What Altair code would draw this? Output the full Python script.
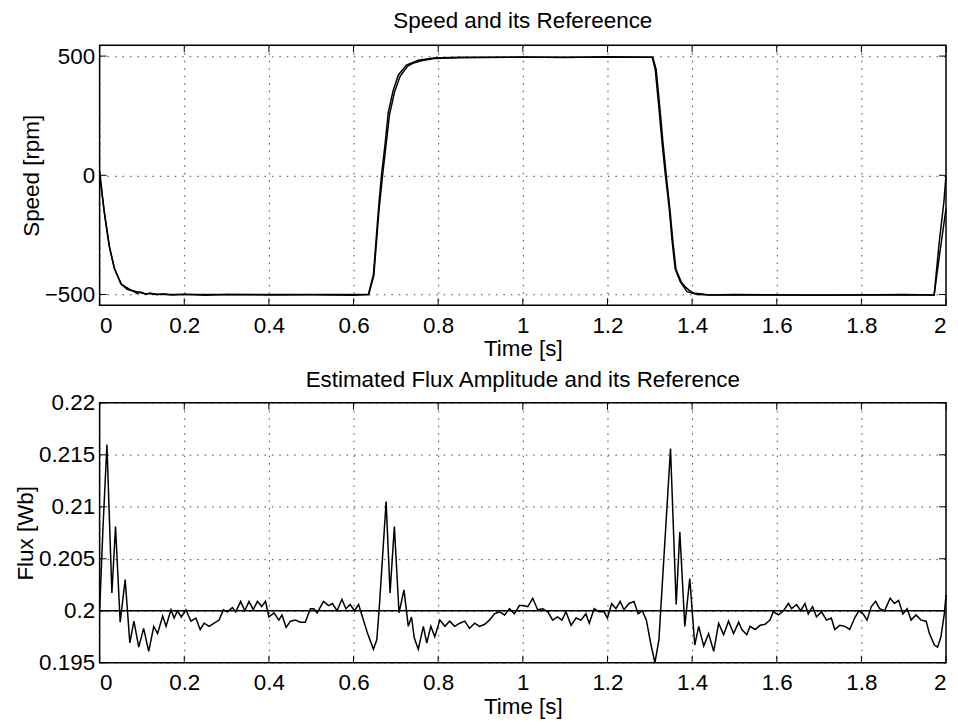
import altair as alt
import pandas as pd

# ---------------- data ----------------
speed_ref_t = [0.0, 0.012, 0.024, 0.035, 0.052, 0.075, 0.106, 0.15, 0.635, 0.647, 0.659, 0.666,
               0.675, 0.682, 0.694, 0.706, 0.725, 0.753, 0.79, 0.85, 1.306, 1.313, 1.322, 1.329,
               1.337, 1.346, 1.353, 1.36, 1.372, 1.388, 1.412, 1.45, 1.972, 1.984, 1.995, 2.0]
speed_ref_v = [0, -167, -308, -392, -458, -483, -496, -500, -500, -417, -141, 0,
               138, 263, 358, 421, 462, 483, 492, 495, 495, 442, 275, 138,
               0, -141, -279, -392, -446, -488, -500, -502, -502, -279, -112, 0]

speed_t = [0.0, 0.01, 0.022, 0.035, 0.05, 0.065, 0.078, 0.088, 0.097, 0.108, 0.12, 0.135, 0.15,
           0.17, 0.2, 0.25, 0.3, 0.4, 0.5, 0.6, 0.636, 0.648, 0.66, 0.668, 0.677, 0.685, 0.697,
           0.71, 0.728, 0.74, 0.76, 0.79, 0.85, 1.0, 1.1, 1.2, 1.307, 1.315, 1.324, 1.331, 1.339,
           1.348, 1.355, 1.362, 1.368, 1.375, 1.385, 1.395, 1.405, 1.42, 1.44, 1.5, 1.7, 1.9,
           1.972, 1.985, 2.0]
speed_v = [20, -140, -290, -390, -455, -478, -484, -495, -490, -499, -494, -501, -497,
           -502, -499, -503, -500, -502, -501, -503, -500, -420, -150, -10, 130, 255, 350,
           415, 458, 470, 480, 490, 493, 496, 494, 497, 495, 445, 280, 140, 0,
           -150, -285, -395, -420, -450, -470, -485, -495, -497, -502, -500, -503, -500,
           -502, -330, -140]

flux_t = [0.0, 0.008, 0.0173, 0.029, 0.0376, 0.0486, 0.0604, 0.0714, 0.081, 0.0925, 0.104, 0.116,
          0.128, 0.137, 0.149, 0.157, 0.1686, 0.176, 0.184, 0.193, 0.204, 0.2157, 0.2275, 0.2376,
          0.247, 0.259, 0.2706, 0.2824, 0.2925, 0.302, 0.3137, 0.3216, 0.3333, 0.343, 0.353, 0.363,
          0.373, 0.383, 0.392, 0.4, 0.412, 0.4235, 0.431, 0.4408, 0.451, 0.4627, 0.4745, 0.486,
          0.498, 0.506, 0.514, 0.529, 0.541, 0.55, 0.561, 0.5725, 0.582, 0.592, 0.602, 0.612,
          0.6196, 0.6333, 0.647, 0.655, 0.661, 0.677, 0.6863, 0.6965, 0.7075, 0.7192, 0.7294,
          0.737, 0.7435, 0.753, 0.765, 0.773, 0.7827, 0.792, 0.804, 0.816, 0.827, 0.839, 0.851,
          0.863, 0.874, 0.886, 0.898, 0.91, 0.921, 0.933, 0.945, 0.957, 0.9686, 0.98, 0.992,
          1.0, 1.0118, 1.0235, 1.035, 1.047, 1.059, 1.0706, 1.082, 1.0925, 1.102, 1.114, 1.126,
          1.1373, 1.149, 1.157, 1.1686, 1.18, 1.192, 1.2, 1.21, 1.22, 1.23, 1.239, 1.251, 1.2627,
          1.2725, 1.2824, 1.292, 1.302, 1.3122, 1.3216, 1.349, 1.3624, 1.371, 1.3828, 1.3945,
          1.4063, 1.4157, 1.4275, 1.439, 1.451, 1.4627, 1.4745, 1.486, 1.498, 1.51, 1.5176,
          1.529, 1.537, 1.549, 1.5608, 1.5725, 1.584, 1.592, 1.604, 1.616, 1.6275, 1.635, 1.647,
          1.6565, 1.6667, 1.6745, 1.6847, 1.694, 1.7059, 1.7176, 1.729, 1.737, 1.749, 1.7608,
          1.7725, 1.784, 1.794, 1.804, 1.8133, 1.8235, 1.8337, 1.843, 1.855, 1.868, 1.878, 1.888,
          1.898, 1.908, 1.9176, 1.929, 1.941, 1.953, 1.9608, 1.9725, 1.98, 1.988, 1.996, 2.0]
flux_v = [0.2000, 0.2080, 0.2160, 0.2017, 0.2081, 0.1989, 0.2030, 0.1969, 0.1990, 0.1965, 0.1983, 0.1961,
          0.1985, 0.1978, 0.1995, 0.1985, 0.2001, 0.1993, 0.2000, 0.1994, 0.2001, 0.1990, 0.1993, 0.1982,
          0.1988, 0.1985, 0.1988, 0.1991, 0.2001, 0.1999, 0.2003, 0.1999, 0.2009, 0.2000, 0.2009, 0.2001,
          0.2009, 0.2004, 0.2009, 0.1994, 0.1998, 0.1991, 0.1996, 0.1984, 0.1990, 0.1991, 0.1989, 0.1989,
          0.2002, 0.2002, 0.1998, 0.2009, 0.2005, 0.2007, 0.2000, 0.2011, 0.2002, 0.2006, 0.2000, 0.2006,
          0.1996, 0.1978, 0.1963, 0.1972, 0.2004, 0.2105, 0.2017, 0.2081, 0.1998, 0.2020, 0.1985,
          0.1994, 0.1974, 0.1963, 0.1985, 0.1969, 0.1985, 0.1975, 0.1991, 0.1985, 0.1990, 0.1985, 0.1988,
          0.1990, 0.1983, 0.1988, 0.1985, 0.1987, 0.1991, 0.1997, 0.1999, 0.1996, 0.2002, 0.1997, 0.2005,
          0.2005, 0.2004, 0.2012, 0.2001, 0.2002, 0.1999, 0.1991, 0.1994, 0.1991, 0.1999, 0.1986, 0.1993,
          0.1991, 0.1997, 0.1988, 0.2002, 0.1999, 0.1999, 0.1993, 0.2007, 0.2002, 0.2009, 0.2001, 0.2007, 0.2009,
          0.1997, 0.2000, 0.1991, 0.1969, 0.1950, 0.1972, 0.2156, 0.2006, 0.2076, 0.1985, 0.2031,
          0.1967, 0.1985, 0.1966, 0.1978, 0.1961, 0.1988, 0.1977, 0.1990, 0.1978, 0.1989, 0.1982,
          0.1977, 0.1985, 0.1982, 0.1986, 0.1987, 0.1991, 0.1999, 0.1996, 0.2000, 0.2007, 0.2002, 0.2006,
          0.2000, 0.2007, 0.1997, 0.2004, 0.1994, 0.1999, 0.1991, 0.1993, 0.1982, 0.1986, 0.1985,
          0.1982, 0.1993, 0.2000, 0.1997, 0.1991, 0.2004, 0.2009, 0.2002, 0.2000, 0.2012, 0.2007, 0.2010,
          0.1997, 0.2002, 0.1991, 0.1996, 0.1991, 0.1990, 0.1978, 0.1967, 0.1965, 0.1975, 0.1997, 0.2015]

flux_ref_t = [0.0, 2.0]
flux_ref_v = [0.2, 0.2]

x_ticks = [0, 0.2, 0.4, 0.6, 0.8, 1, 1.2, 1.4, 1.6, 1.8, 2]
speed_ticks = [-500, 0, 500]
flux_ticks = [0.195, 0.2, 0.205, 0.21, 0.215, 0.22]

# ---------------- style ----------------
FONT = "Liberation Sans"
FS = 22.5
W, H = 850, 261
TICK = 7

speed_df = pd.concat([
    pd.DataFrame({"t": speed_ref_t, "v": speed_ref_v, "s": "Reference"}),
    pd.DataFrame({"t": speed_t, "v": speed_v, "s": "Speed"}),
])
flux_df = pd.concat([
    pd.DataFrame({"t": flux_ref_t, "v": flux_ref_v, "s": "Reference"}),
    pd.DataFrame({"t": flux_t, "v": flux_v, "s": "Flux"}),
])
xt_df = pd.DataFrame({"t": x_ticks})


def axis(title, values, pad):
    return alt.Axis(values=values, format="~r", title=title, grid=True,
                    gridColor="#444", gridDash=[1.5, 6], gridWidth=1,
                    domain=False, ticks=False, tickSize=0, labelPadding=pad,
                    labelFont=FONT, labelFontSize=FS, labelColor="black",
                    titleFont=FONT, titleFontSize=FS, titleColor="black",
                    titleFontWeight="normal", titlePadding=1)


def panel(df, domain, yticks, ytitle, title, toff):
    xs = alt.Scale(domain=[0, 2], nice=False, zero=False)
    ys = alt.Scale(domain=domain, nice=False, zero=False)
    lines = alt.Chart(df).mark_line(color="black", strokeWidth=1.5).encode(
        x=alt.X("t:Q", scale=xs, axis=axis("Time [s]", x_ticks, 9)),
        y=alt.Y("v:Q", scale=ys, axis=axis(ytitle, yticks, 5)),
        detail="s:N",
    )
    yt_df = pd.DataFrame({"v": yticks})
    t_top = alt.Chart(xt_df).mark_rule(color="black", strokeWidth=1).encode(
        x=alt.X("t:Q", scale=xs), y=alt.value(0), y2=alt.value(TICK))
    t_bot = alt.Chart(xt_df).mark_rule(color="black", strokeWidth=1).encode(
        x=alt.X("t:Q", scale=xs), y=alt.value(H), y2=alt.value(H - TICK))
    t_left = alt.Chart(yt_df).mark_rule(color="black", strokeWidth=1).encode(
        y=alt.Y("v:Q", scale=ys), x=alt.value(0), x2=alt.value(TICK))
    t_right = alt.Chart(yt_df).mark_rule(color="black", strokeWidth=1).encode(
        y=alt.Y("v:Q", scale=ys), x=alt.value(W), x2=alt.value(W - TICK))
    return alt.layer(lines, t_top, t_bot, t_left, t_right).properties(
        width=W, height=H,
        title=alt.TitleParams(title, font=FONT, fontSize=FS, fontWeight="normal",
                              color="black", offset=toff, anchor="middle"),
    )


top = panel(speed_df, [-545, 545], speed_ticks, "Speed [rpm]", "Speed and its Refereence", 12)
bot = panel(flux_df, [0.195, 0.22], flux_ticks, "Flux [Wb]",
            "Estimated Flux Amplitude and its Reference", 0)

chart = alt.vconcat(top, bot, spacing=7).properties(
    padding={"left": 5, "top": 0, "right": 0, "bottom": 0},
    background="white",
).configure_view(stroke="black", strokeWidth=1.5)

chart.save("out.html", embed_options={"renderer": "svg", "actions": False})
